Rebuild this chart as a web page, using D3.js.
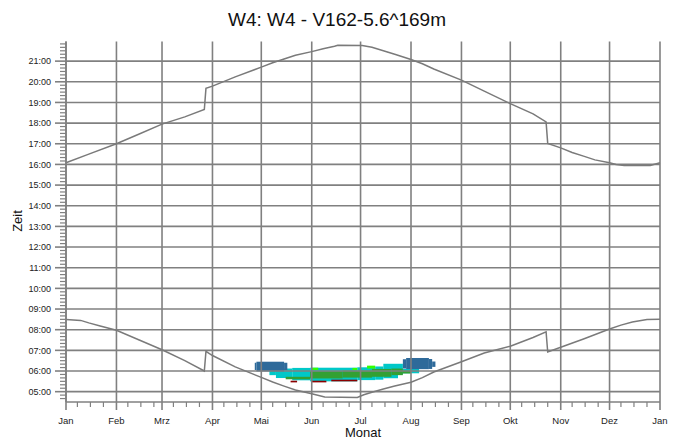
<!DOCTYPE html>
<html><head><meta charset="utf-8">
<script src="https://cdn.jsdelivr.net/npm/d3@7"></script>
<style>
body{margin:0;background:#fff}
svg{display:block;font-family:"Liberation Sans",Arial,Helvetica,sans-serif}
</style>
</head><body>
<svg id="c" width="680" height="441"></svg>
<script>
// ---------- data ----------
const chartTitle = "W4: W4 - V162-5.6^169m";
const monthLabels = ["Jan","Feb","Mrz","Apr","Mai","Jun","Jul","Aug","Sep","Okt","Nov","Dez","Jan"];
const hourTicks = [5,6,7,8,9,10,11,12,13,14,15,16,17,18,19,20,21];
const minorTickDays = [8,16,24];

const sunsetDates = ["2023-01-01","2023-01-15","2023-02-01","2023-02-15","2023-03-01","2023-03-15","2023-03-27","2023-03-28","2023-04-01","2023-04-15","2023-05-01","2023-05-08","2023-05-15","2023-05-22","2023-06-01","2023-06-08","2023-06-15","2023-06-17","2023-07-02","2023-07-08","2023-07-15","2023-07-22","2023-08-01","2023-08-08","2023-08-15","2023-09-01","2023-09-15","2023-10-01","2023-10-15","2023-10-23","2023-10-24","2023-11-01","2023-11-08","2023-11-15","2023-11-22","2023-12-01","2023-12-05","2023-12-10","2023-12-26","2024-01-01"];
const sunsetHours = [16.08,16.5,17.0,17.47,17.95,18.3,18.66,19.68,19.79,20.24,20.71,20.92,21.1,21.28,21.46,21.6,21.72,21.77,21.76,21.67,21.5,21.33,21.08,20.87,20.62,20.08,19.55,18.94,18.45,18.06,17.02,16.8,16.58,16.4,16.22,16.08,16.0,15.95,15.95,16.08];

const sunriseDates = ["2023-01-01","2023-01-10","2023-01-15","2023-01-22","2023-02-01","2023-02-15","2023-03-01","2023-03-15","2023-03-27","2023-03-28","2023-04-01","2023-04-15","2023-05-01","2023-05-08","2023-05-15","2023-05-22","2023-06-01","2023-06-09","2023-06-29","2023-07-03","2023-07-08","2023-07-15","2023-07-22","2023-08-01","2023-08-08","2023-08-15","2023-09-01","2023-09-15","2023-10-01","2023-10-15","2023-10-23","2023-10-24","2023-11-01","2023-11-15","2023-12-01","2023-12-08","2023-12-15","2023-12-24","2024-01-01"];
const sunriseHours = [8.49,8.45,8.33,8.18,7.97,7.5,7.03,6.5,6.0,6.95,6.75,6.2,5.69,5.47,5.27,5.08,4.9,4.74,4.72,4.85,4.97,5.13,5.27,5.46,5.68,5.95,6.45,6.87,7.2,7.62,7.9,6.92,7.15,7.55,8.03,8.22,8.37,8.49,8.5];

// shadow periods: [from date, to date, start hour, end hour]
const flickerCyan = [
  ["2023-05-06","2023-05-10",5.80,6.10],
  ["2023-05-10","2023-05-20",5.66,6.12],
  ["2023-05-20","2023-05-31",5.55,6.15],
  ["2023-05-31","2023-06-29",5.50,6.16],
  ["2023-06-29","2023-07-10",5.56,6.18],
  ["2023-07-10","2023-07-15",5.58,6.22],
  ["2023-07-15","2023-07-24",5.65,6.35],
  ["2023-07-24","2023-07-27",5.85,6.35],
  ["2023-07-27","2023-08-06",5.89,6.10]
];
const flickerGreen = [
  ["2023-05-16","2023-05-31",5.60,5.72],
  ["2023-05-31","2023-06-20",5.64,5.99],
  ["2023-06-20","2023-07-08",5.68,6.02],
  ["2023-07-08","2023-07-20",5.72,6.10],
  ["2023-07-20","2023-07-27",5.80,6.12],
  ["2023-07-27","2023-08-01",5.88,6.02]
];
const flickerLime = [
  ["2023-06-01","2023-06-05",6.05,6.16],
  ["2023-06-26","2023-06-29",6.05,6.15],
  ["2023-07-05","2023-07-10",6.12,6.26]
];
const flickerRed = [
  ["2023-05-19","2023-05-23",5.45,5.53],
  ["2023-06-01","2023-06-10",5.45,5.53],
  ["2023-06-13","2023-06-29",5.50,5.58]
];
const flickerBlue = [
  ["2023-04-27","2023-04-28",6.05,6.40],
  ["2023-04-28","2023-05-15",5.98,6.45],
  ["2023-05-15","2023-05-17",6.04,6.40],
  ["2023-07-27","2023-07-29",6.12,6.57],
  ["2023-07-29","2023-08-12",6.09,6.63],
  ["2023-08-12","2023-08-14",6.10,6.58],
  ["2023-08-14","2023-08-16",6.20,6.46]
];

// ---------- drawing ----------
const svg = d3.select("#c");
const L = 66, R = 660, T = 41.5, B = 402;
const parse = d3.timeParse("%Y-%m-%d");
const x = d3.scaleTime().domain([parse("2023-01-01"), parse("2024-01-01")]).range([L, R]);
const y = d3.scaleLinear().domain([4.5, 21.95]).range([B, T]);
const gridColor = "#808080";

// flicker rectangles
const series = [
  [flickerCyan, "#00c8c8"],
  [flickerGreen, "#33a033"],
  [flickerLime, "#33ff00"],
  [flickerRed, "#8b0000"],
  [flickerBlue, "#2e6a9a"]
];
series.forEach(([rows, col]) => {
  svg.append("g").selectAll("rect").data(rows).join("rect")
    .attr("x", d => x(parse(d[0])))
    .attr("width", d => x(parse(d[1])) - x(parse(d[0])))
    .attr("y", d => y(d[3]))
    .attr("height", d => y(d[2]) - y(d[3]))
    .attr("fill", col);
});

// grid
const months = d3.range(13).map(i => new Date(2023, i, 1));
const grid = svg.append("g").attr("stroke", gridColor).attr("stroke-width", 1.6);
grid.selectAll("line.h").data(hourTicks).join("line").attr("class","h")
  .attr("x1", L).attr("x2", R).attr("y1", d => y(d)).attr("y2", d => y(d));
grid.selectAll("line.v").data(months).join("line").attr("class","v")
  .attr("x1", d => x(d)).attr("x2", d => x(d)).attr("y1", T).attr("y2", B + 8);

// curves
const line = d3.line().x(d => x(d[0])).y(d => y(d[1]));
const sunset = sunsetDates.map((d, i) => [parse(d), sunsetHours[i]]);
const sunrise = sunriseDates.map((d, i) => [parse(d), sunriseHours[i]]);
[sunset, sunrise].forEach(pts => {
  svg.append("path").datum(pts).attr("d", line)
    .attr("fill", "none").attr("stroke", "#7a7a7a").attr("stroke-width", 1.5);
});

// axes lines
svg.append("line").attr("x1", L).attr("x2", L).attr("y1", T).attr("y2", B)
  .attr("stroke", gridColor).attr("stroke-width", 1.6);
svg.append("line").attr("x1", L).attr("x2", R).attr("y1", B).attr("y2", B)
  .attr("stroke", gridColor).attr("stroke-width", 1.6);

// y ticks
const minorY = d3.range(4 + 4/6, 21.95, 1/6).filter(h => Math.abs(h - Math.round(h)) > 0.01);
svg.append("g").attr("stroke", gridColor).attr("stroke-width", 1.2)
  .selectAll("line").data(minorY).join("line")
  .attr("x1", L - 6).attr("x2", L).attr("y1", d => y(d)).attr("y2", d => y(d));
svg.append("g").attr("stroke", gridColor).attr("stroke-width", 1.6)
  .selectAll("line").data(hourTicks).join("line")
  .attr("x1", L - 11).attr("x2", L).attr("y1", d => y(d)).attr("y2", d => y(d));
svg.append("g").selectAll("text").data(hourTicks).join("text")
  .attr("x", 51).attr("y", d => y(d)).attr("dy", "0.35em")
  .attr("text-anchor", "end").attr("font-size", 9).attr("fill", "#222")
  .text(d => String(d).padStart(2, "0") + ":00");

// x ticks
const minorX = [];
d3.range(12).forEach(m => minorTickDays.forEach(dd => minorX.push(new Date(2023, m, dd))));
svg.append("g").attr("stroke", gridColor).attr("stroke-width", 1.2)
  .selectAll("line").data(minorX).join("line")
  .attr("x1", d => x(d)).attr("x2", d => x(d)).attr("y1", B).attr("y2", B + 5);
svg.append("g").selectAll("text").data(months).join("text")
  .attr("x", d => x(d)).attr("y", 424)
  .attr("text-anchor", "middle").attr("font-size", 9.5).attr("fill", "#222")
  .text((d, i) => monthLabels[i]);

// titles
svg.append("text").attr("x", 337).attr("y", 26).attr("text-anchor", "middle")
  .attr("font-size", 19).attr("fill", "#111").text(chartTitle);
svg.append("text").attr("x", 363).attr("y", 437).attr("text-anchor", "middle")
  .attr("font-size", 13).attr("fill", "#111").text("Monat");
svg.append("text").attr("transform", "translate(22,221) rotate(-90)")
  .attr("text-anchor", "middle").attr("font-size", 13).attr("fill", "#111").text("Zeit");
</script>
</body></html>
